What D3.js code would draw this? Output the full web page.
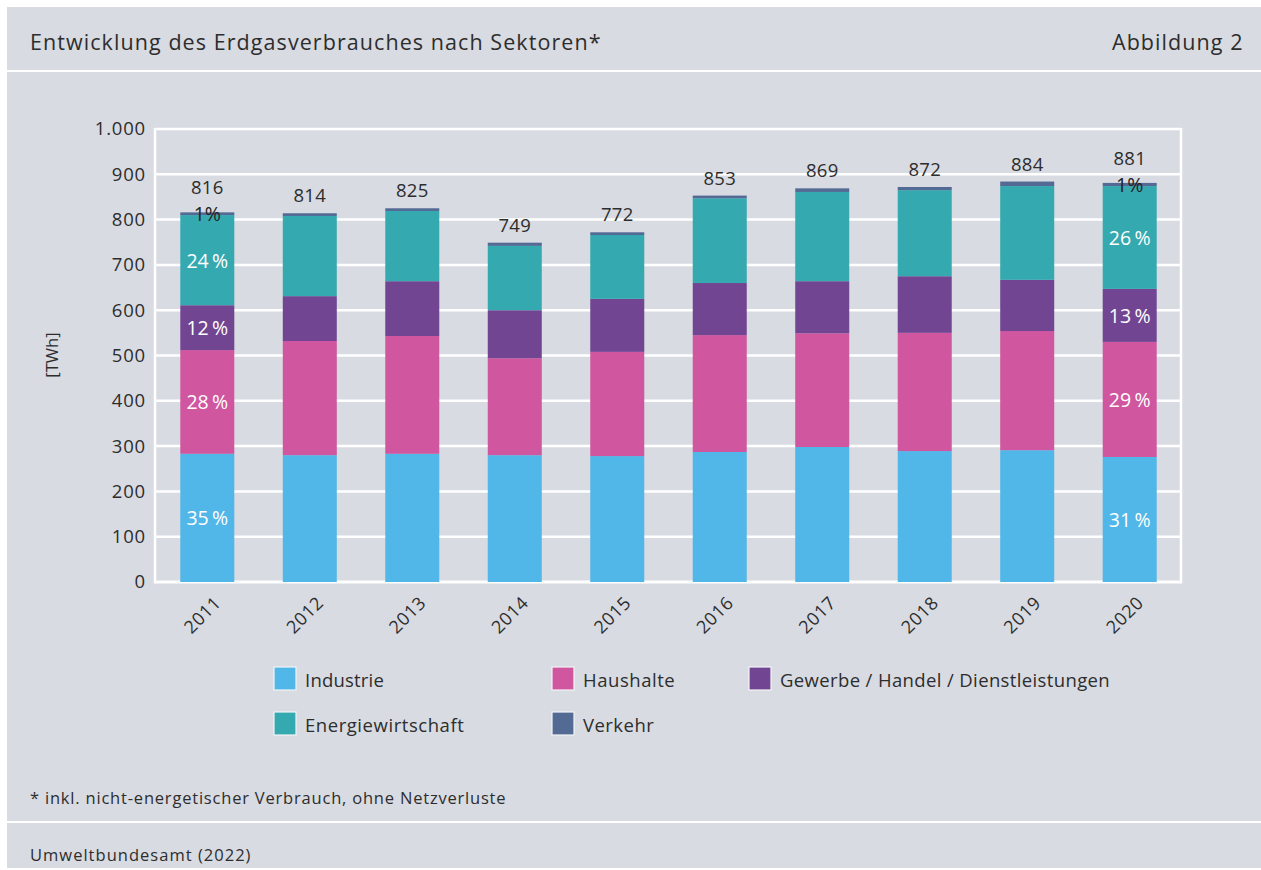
<!DOCTYPE html>
<html><head><meta charset="utf-8">
<script src="https://cdn.jsdelivr.net/npm/d3@7"></script>
<style>
html,body{margin:0;padding:0;background:#fff;}
svg{display:block;font-family:"Open Sans","Noto Sans",sans-serif;}
</style></head>
<body><svg id="c" width="1261" height="870"></svg>
<script>
const years = ["2011","2012","2013","2014","2015","2016","2017","2018","2019","2020"];
const seriesNames = ["Industrie","Haushalte","Gewerbe / Handel / Dienstleistungen","Energiewirtschaft","Verkehr"];
const industrie        = [283,280,283,280,278,287,298,289,291,276];
const haushalte        = [229,252,260,214,230,258,251,261,263,254];
const gewerbe          = [ 99, 99,121,106,117,115,115,125,113,117];
const energiewirtschaft= [199,177,155,142,141,187,197,190,207,227];
const verkehr          = [  6,  6,  6,  7,  6,  6,  8,  7, 10,  7];
const yTicks = [0,100,200,300,400,500,600,700,800,900,1000];
const pctYears = ["2011","2020"];
const colors = ["#51b6e8","#cf569f","#724593","#35a9b0","#536a95"];

const seriesValues = [industrie,haushalte,gewerbe,energiewirtschaft,verkehr];
const keys = ["ind","hau","gew","ene","ver"];
const rows = years.map((y,i)=>{const r={year:y}; keys.forEach((k,j)=>r[k]=seriesValues[j][i]); return r;});
const stack = d3.stack().keys(keys)(rows);

const svg = d3.select("#c");
const bg = "#d8dbe2", txt = "#2d2d2d";

function fit(sel, target){
  sel.each(function(){
    const n=this.getComputedTextLength();
    const c=this.textContent.length;
    if(c>1) d3.select(this).attr("letter-spacing",((target-n)/(c-0.5)).toFixed(2));
  });
}

svg.append("rect").attr("x",7).attr("y",7).attr("width",1254).attr("height",861).attr("fill",bg);
svg.append("rect").attr("x",7).attr("y",70).attr("width",1254).attr("height",2).attr("fill","#fff");
svg.append("rect").attr("x",7).attr("y",821).attr("width",1254).attr("height",2).attr("fill","#fff");

fit(svg.append("text").attr("x",30).attr("y",50).attr("font-size",21.5).attr("fill",txt)
  .text("Entwicklung des Erdgasverbrauches nach Sektoren*"),571);
fit(svg.append("text").attr("x",1112).attr("y",50).attr("font-size",21.5).attr("fill",txt)
  .text("Abbildung 2"),131);
fit(svg.append("text").attr("x",30).attr("y",804).attr("font-size",16.5).attr("fill",txt)
  .text("* inkl. nicht-energetischer Verbrauch, ohne Netzverluste"),476);
fit(svg.append("text").attr("x",30).attr("y",861).attr("font-size",16.5).attr("fill",txt)
  .text("Umweltbundesamt (2022)"),221);

const L=155, R=1181, T=129, B=582;
const x = d3.scaleBand().domain(years).range([156,1181]).paddingInner(0.473).paddingOuter(0.237);
const y = d3.scaleLinear().domain([0,1000]).range([B,T]);

// gridlines
const g = svg.append("g");
g.selectAll("line.grid").data(yTicks).join("line")
  .attr("x1",L).attr("x2",R).attr("y1",d=>y(d)).attr("y2",d=>y(d))
  .attr("stroke","#fff").attr("stroke-width",d=>d===0?3:2.5);
g.append("line").attr("x1",L).attr("x2",L).attr("y1",T-1).attr("y2",B+1.5).attr("stroke","#fff").attr("stroke-width",2.5);
g.append("line").attr("x1",R).attr("x2",R).attr("y1",T-1).attr("y2",B+1.5).attr("stroke","#fff").attr("stroke-width",2.5);

// y axis labels
const fmt = d3.formatLocale({decimal:",",thousands:".",grouping:[3],currency:["","€"]}).format(",");
const yAxis = d3.axisLeft(y).tickValues(yTicks).tickSize(0).tickPadding(9).tickFormat(fmt);
const ya = svg.append("g").attr("transform",`translate(${L},0)`).call(yAxis);
ya.select(".domain").remove();
ya.selectAll("text").attr("font-size",18.5).attr("fill",txt).attr("font-family","'Open Sans',sans-serif")
  .attr("letter-spacing",0.8);

svg.append("text").attr("transform",`translate(58,355) rotate(-90)`).attr("text-anchor","middle")
  .attr("font-size",16.5).attr("fill",txt).text("[TWh]");

// x axis labels
const xAxis = d3.axisBottom(x).tickSize(0).tickPadding(0);
const xa = svg.append("g").attr("transform",`translate(0,${B})`).call(xAxis);
xa.select(".domain").remove();
xa.selectAll("text").attr("font-size",18).attr("fill",txt).attr("font-family","'Open Sans',sans-serif")
  .attr("text-anchor","end").attr("dy",null).attr("y",0).attr("letter-spacing",0.6)
  .attr("transform","translate(10,17) rotate(-45)").attr("dominant-baseline","central");

// bars
const bars = svg.append("g");
stack.forEach((s,si)=>{
  bars.append("g").attr("fill",colors[si]).selectAll("rect").data(s).join("rect")
    .attr("x",d=>x(d.data.year)).attr("width",x.bandwidth())
    .attr("y",d=>y(d[1])).attr("height",d=>y(d[0])-y(d[1]));
});

// totals
const totals = rows.map(r=>keys.reduce((a,k)=>a+r[k],0));
svg.append("g").selectAll("text").data(rows).join("text")
  .attr("x",d=>x(d.year)+x.bandwidth()/2)
  .attr("y",(d,i)=>y(totals[i]) - (pctYears.includes(d.year)?18:11))
  .attr("text-anchor","middle").attr("font-size",18.5).attr("fill",txt).attr("letter-spacing",0.3)
  .text((d,i)=>totals[i]);

// percentage labels
const pl = svg.append("g");
stack.forEach((s,si)=>{
  s.forEach((d,i)=>{
    if(!pctYears.includes(d.data.year)) return;
    const p = Math.round((d[1]-d[0])/totals[i]*100);
    pl.append("text").attr("x",x(d.data.year)+x.bandwidth()/2)
      .attr("y",y((d[0]+d[1])/2)).attr("dominant-baseline","central")
      .attr("text-anchor","middle").attr("font-size",19.5).attr("font-weight",500)
      .attr("fill",si===4?"#222":"#fff")
      .text(si===4? p+"%" : p+"\u2009%");
  });
});

// legend
const legendPos = [[274,667],[552,667],[749,667],[274,712],[552,712]];
const legendW = [79,92,330,159,71];
const lg = svg.append("g");
seriesNames.forEach((n,i)=>{
  const [lx,ly]=legendPos[i];
  lg.append("rect").attr("x",lx).attr("y",ly).attr("width",22).attr("height",23)
    .attr("fill",colors[i]).attr("stroke","#f2f3f6").attr("stroke-width",1.2);
  fit(lg.append("text").attr("x",lx+31).attr("y",ly+12).attr("dominant-baseline","central")
    .attr("font-size",18.5).attr("fill",txt).text(n), legendW[i]);
});
</script></body></html>
